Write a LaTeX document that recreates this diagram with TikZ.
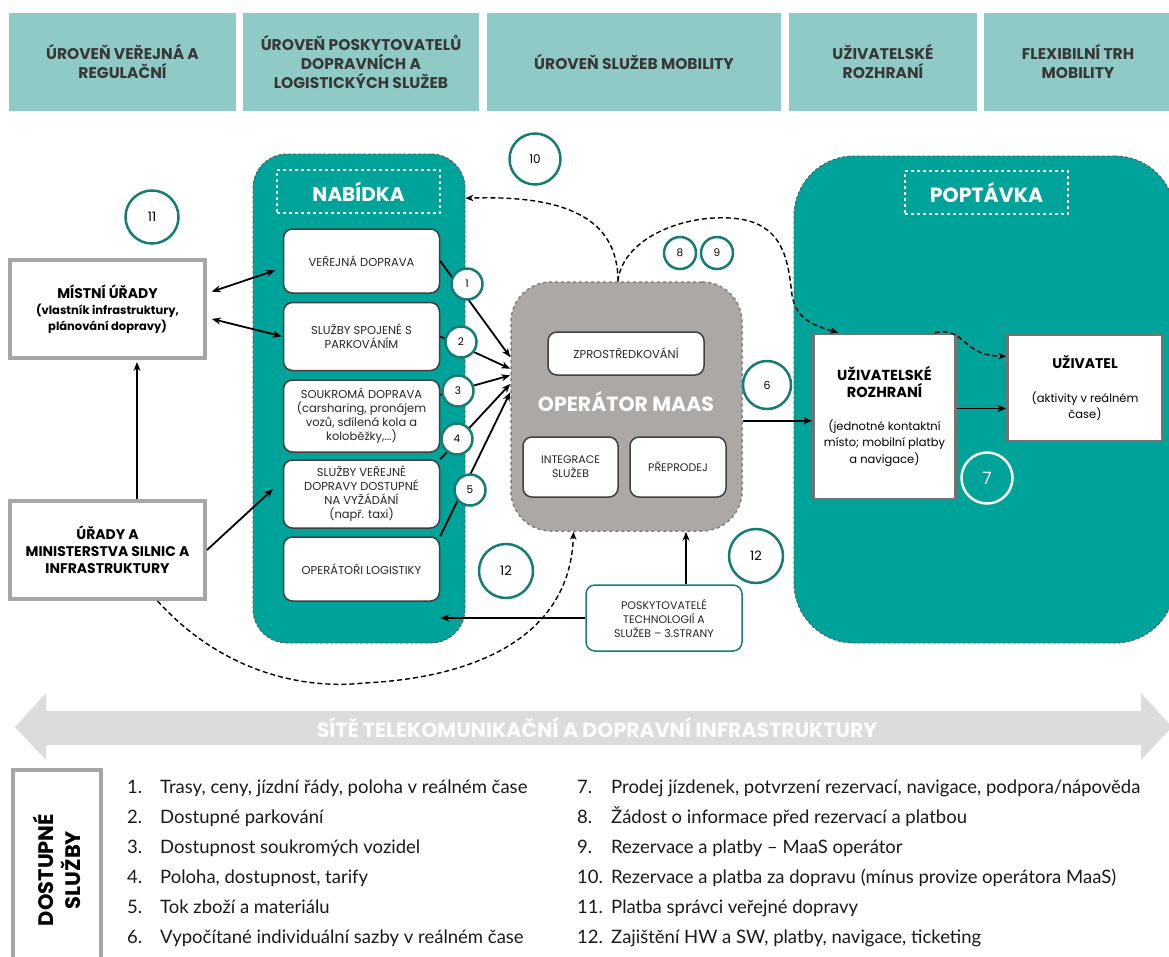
\documentclass[tikz,border=0pt]{standalone}
\usepackage{fontspec}
\setmainfont{Poppins}
\newfontfamily\legendfont[Ligatures=TeX]{Lato}
\usepackage{tikz}
\usetikzlibrary{arrows.meta}

\definecolor{levelteal}{HTML}{8FCAC6}
\definecolor{zoneteal}{HTML}{00A39A}
\definecolor{ringteal}{HTML}{167D72}
\definecolor{maasgray}{HTML}{ACA8A6}
\definecolor{framegray}{HTML}{A6A6A6}
\definecolor{netgray}{HTML}{DCDCDC}

\tikzset{
levelbox/.style={fill=levelteal, inner sep=0pt, minimum height=98pt, align=center, text=black!78, font=\fontsize{15.5}{19}\selectfont\bfseries},
zone/.style={fill=zoneteal, draw=black!65, densely dashed, line width=0.9pt, inner sep=0pt},
zonetitle/.style={draw=white, dashed, line width=1.3pt, text=white, minimum width=163pt, minimum height=43pt, inner sep=0pt, font=\fontsize{20}{22}\selectfont\bfseries},
service/.style={draw=black!75, line width=1.5pt, fill=white, rounded corners=9pt, inner sep=0pt, align=center, text=black!85, font=\fontsize{11.5}{14}\selectfont},
ring/.style={circle, draw=ringteal, line width=2.5pt, fill=white, inner sep=0pt, font=\fontsize{10.5}{12}\selectfont},
authority/.style={draw=framegray, line width=4pt, fill=white, minimum width=195pt, minimum height=98pt, inner sep=0pt, align=center},
plainbox/.style={draw=black!55, line width=2.5pt, fill=white, inner sep=0pt, align=center, font=\fontsize{11.5}{16.5}\selectfont},
flow/.style={line width=1.8pt, -{Stealth[length=9pt,width=7pt]}},
twoway/.style={line width=1.8pt, {Stealth[length=9pt,width=7pt]}-{Stealth[length=9pt,width=7pt]}},
dashflow/.style={dash pattern=on 5pt off 3pt, line width=1.4pt, -{Stealth[length=8pt,width=6.5pt]}},
legenditem/.style={anchor=base west, inner sep=0pt, text=black!90, font=\legendfont\fontsize{18.5}{21}\selectfont},
}

\begin{document}
\begin{tikzpicture}[x=1pt,y=-1pt]
    \useasboundingbox[fill=white] (0,0) rectangle (1169,956) ; % page
\node[levelbox, minimum width=227pt] (lvlpublic) at (122.5,61.5) {ÚROVEŇ VEŘEJNÁ A\\REGULAČNÍ} ; % level.0
\node[levelbox, minimum width=236pt] (lvlprovider) at (361,61.5) {ÚROVEŇ POSKYTOVATELŮ\\DOPRAVNÍCH A\\LOGISTICKÝCH SLUŽEB} ; % level.1
\node[levelbox, minimum width=294pt] (lvlmobility) at (634,61.5) {ÚROVEŇ SLUŽEB MOBILITY} ; % level.2
\node[levelbox, minimum width=188pt] (lvlinterface) at (883,61.5) {UŽIVATELSKÉ\\ROZHRANÍ} ; % level.3
\node[levelbox, minimum width=188pt] (lvlmarket) at (1078,61.5) {FLEXIBILNÍ TRH\\MOBILITY} ; % level.4
\node[zone, rounded corners=34pt, minimum width=212pt, minimum height=489pt] (nabidka) at (359,398.5) {} ; % supply
\node[zonetitle] (nabtitle) at (358.5,191.5) {NABÍDKA} ;
\node[service, minimum width=156pt, minimum height=64pt] (pub) at (361.5,261) {VEŘEJNÁ DOPRAVA} ;
\node[service, minimum width=156pt, minimum height=68pt] (park) at (361.5,336.5) {SLUŽBY SPOJENÉ S\\PARKOVÁNÍM} ;
\node[service, minimum width=156pt, minimum height=72pt] (priv) at (361.5,416) {SOUKROMÁ DOPRAVA\\(carsharing, pronájem\\vozů, sdílená kola a\\koloběžky,...)} ;
\node[service, minimum width=156pt, minimum height=68pt] (ondemand) at (361.5,494) {SLUŽBY VEŘEJNÉ\\DOPRAVY DOSTUPNÉ\\NA VYŽÁDÁNÍ\\(např. taxi)} ;
\node[service, minimum width=156pt, minimum height=64pt] (logi) at (361.5,569) {OPERÁTOŘI LOGISTIKY} ;
\node[fill=maasgray, draw=black!50, dashed, line width=1.5pt, rounded corners=40pt, minimum width=231pt, minimum height=249pt] (operator) at (626.5,406.5) {} ; % maas
\node[service, minimum width=156pt, minimum height=43pt, font=\fontsize{11.5}{14}\selectfont] (zpro) at (626,353.5) {ZPROSTŘEDKOVÁNÍ} ;
\node[text=white, font=\fontsize{20.5}{22}\selectfont\bfseries] (maastitle) at (626,402) {OPERÁTOR MAAS} ;
\node[service, minimum width=95pt, minimum height=60pt, font=\fontsize{11}{14}\selectfont] (integ) at (570.5,467) {INTEGRACE\\SLUŽEB} ;
\node[service, minimum width=96pt, minimum height=60pt, font=\fontsize{11}{14}\selectfont] (resale) at (678,467) {PŘEPRODEJ} ;
\node[service, draw=ringteal, minimum width=156pt, minimum height=66pt, font=\fontsize{11}{14}\selectfont] (posk) at (664,618) {POSKYTOVATELÉ\\TECHNOLOGIÍ A\\SLUŽEB -- 3.STRANY} ; % third party
\node[zone, rounded corners=60pt, minimum width=381pt, minimum height=487pt] (poptavka) at (984.5,399.5) {} ; % demand
\node[zonetitle, font=\fontsize{20.5}{22}\selectfont\bfseries] (poptitle) at (986.5,192.5) {POPTÁVKA} ;
\node[plainbox, minimum width=142pt, minimum height=165pt] (ui) at (884.5,416.5) {\textbf{\fontsize{14.5}{16.5}\selectfont UŽIVATELSKÉ}\\\textbf{\fontsize{14.5}{16.5}\selectfont ROZHRANÍ}\\[16.5pt](jednotné kontaktní\\místo; mobilní platby\\a navigace)} ;
\node[plainbox, minimum width=155pt, minimum height=106pt] (user) at (1085,388) {\textbf{\fontsize{14}{16.5}\selectfont UŽIVATEL}\\[17pt](aktivity v reálném\\čase)} ;
\node[authority, font=\fontsize{11.5}{16}\selectfont\bfseries] (mistni) at (107.5,309) {{\fontsize{14}{16}\selectfont MÍSTNÍ ÚŘADY}\\(vlastník infrastruktury,\\plánování dopravy)} ; % local
\node[authority, font=\fontsize{14}{17}\selectfont\bfseries] (urady) at (107.5,550) {ÚŘADY A\\MINISTERSTVA SILNIC A\\INFRASTRUKTURY} ; % ministry
\draw[flow] (pub.east) -- (operator.157) ; % 1
\draw[flow] (park.east) -- (operator.162.5) ; % 2
\draw[flow] (priv.15) -- (operator.165.5) ; % 3
\draw[flow] (ondemand.north east) -- (operator.169.5) ; % 4
\draw[flow] (logi.north east) -- (operator.173) ; % 5
\draw[twoway, shorten <=5pt, shorten >=8pt] (mistni.9) -- (pub.185) ;
\draw[twoway, shorten <=5pt, shorten >=1pt] (mistni.-5) -- (park.west) ;
\draw[flow, shorten >=2pt] ([xshift=29.5pt]urady.north) -- ([xshift=29.5pt]mistni.south) ;
\draw[flow, shorten >=13pt] (urady.east) -- (ondemand.170) ;
\draw[flow] ([xshift=22pt]posk.north) -- ([xshift=22pt]posk.north |- operator.south) ;
\draw[flow] (posk.west) -- (posk.west -| logi.east) ;
\draw[flow] (operator.-7) -- (operator.-7 -| ui.west) ; % 6
\draw[flow] ([yshift=8pt]ui.east) -- ([yshift=8pt]ui.east -| user.west) ;
\draw[dashflow] ([xshift=-8.5pt]operator.north) .. controls (618,215) and (560,195) .. (nabidka.62.4) ; % 10
\draw[dashflow] ([xshift=-8.5pt]operator.north) .. controls (622,240) and (680,215) .. (730,218) .. controls (785,221) and (788,262) .. (792,295) .. controls (796,322) and (820,327) .. (ui.119) ; % 8 9
\draw[dashflow] (ui.59) .. controls (965,326) and (962,356) .. (user.158) ;
\draw[dashflow] ([xshift=50pt]urady.south) .. controls (220,670) and (300,690) .. (364,683) .. controls (470,678) and (570,640) .. ([xshift=-53pt]operator.south) ; % 11
\node[ring, minimum size=31pt] (r1) at (467,284) {1} ;
\node[ring, minimum size=31pt] (r2) at (461,342) {2} ;
\node[ring, minimum size=31pt] (r3) at (458,391) {3} ;
\node[ring, minimum size=31pt] (r4) at (457,439) {4} ;
\node[ring, minimum size=31pt] (r5) at (470,490) {5} ;
\node[ring, minimum size=48pt, font=\fontsize{11}{12}\selectfont] (r6) at (767,385) {6} ;
\node[ring, minimum size=51pt, fill=zoneteal, draw=white, text=white, font=\fontsize{17}{18}\selectfont] (r7) at (987,478) {7} ;
\node[ring, minimum size=32pt] (r8) at (680,253) {8} ;
\node[ring, minimum size=32pt] (r9) at (717,253) {9} ;
\node[ring, minimum size=51pt, font=\fontsize{12}{14}\selectfont] (r10) at (535,159) {10} ;
\node[ring, minimum size=53pt, font=\fontsize{13}{14}\selectfont] (r11) at (152,217) {11} ;
\node[ring, minimum size=54pt, font=\fontsize{13}{14}\selectfont] (r12a) at (506,571) {12} ;
\node[ring, minimum size=54pt, font=\fontsize{13}{14}\selectfont] (r12b) at (756,556) {12} ;
\fill[netgray] (15,727) -- (46,693) -- (46,711) -- (1141,711) -- (1141,693) -- (1172,727) -- (1141,760) -- (1141,745) -- (46,745) -- (46,760) -- cycle ; % network
\node[text=white, font=\fontsize{20.5}{22}\selectfont\bfseries] (net) at (597,728) {SÍTĚ TELEKOMUNIKAČNÍ A DOPRAVNÍ INFRASTRUKTURY} ;
\node[draw=framegray, line width=4pt, rotate=90, minimum width=200pt, minimum height=88pt, inner sep=0pt, align=center, font=\fontsize{21}{27}\selectfont\bfseries] (svctitle) at (57,870) {DOSTUPNÉ\\SLUŽBY} ; % legend
\node[legenditem] (svc1) at (127,793) {\makebox[33pt][l]{1.}Trasy, ceny, jízdní řády, poloha v reálném čase} ;
\node[legenditem] (svc2) at (127,823) {\makebox[33pt][l]{2.}Dostupné parkování} ;
\node[legenditem] (svc3) at (127,853) {\makebox[33pt][l]{3.}Dostupnost soukromých vozidel} ;
\node[legenditem] (svc4) at (127,883) {\makebox[33pt][l]{4.}Poloha, dostupnost, tarify} ;
\node[legenditem] (svc5) at (127,913) {\makebox[33pt][l]{5.}Tok zboží a materiálu} ;
\node[legenditem] (svc6) at (127,943) {\makebox[33pt][l]{6.}Vypočítané individuální sazby v reálném čase} ;
\node[legenditem] (svc7) at (577,793) {\makebox[34pt][l]{7.}Prodej jízdenek, potvrzení rezervací, navigace, podpora/nápověda} ;
\node[legenditem] (svc8) at (577,823) {\makebox[34pt][l]{8.}Žádost o informace před rezervací a platbou} ;
\node[legenditem] (svc9) at (577,853) {\makebox[34pt][l]{9.}Rezervace a platby – MaaS operátor} ;
\node[legenditem] (svc10) at (577,883) {\makebox[34pt][l]{10.}Rezervace a platba za dopravu (mínus provize operátora MaaS)} ;
\node[legenditem] (svc11) at (577,913) {\makebox[34pt][l]{11.}Platba správci veřejné dopravy} ;
\node[legenditem] (svc12) at (577,943) {\makebox[34pt][l]{12.}Zajištění HW a SW, platby, navigace, ticketing} ;
    \end{tikzpicture}
\end{document}
